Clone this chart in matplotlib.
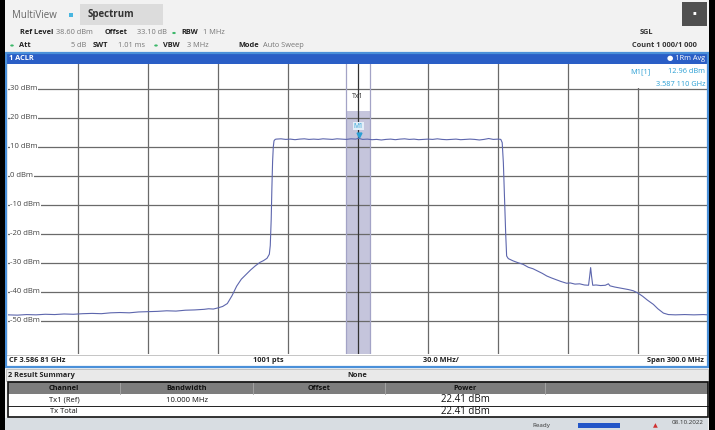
import matplotlib.pyplot as plt
from matplotlib.patches import Rectangle, Circle

plt.rcParams['font.family'] = ['Open Sans', 'DejaVu Sans']

# trace: offset from CF in MHz, level in dBm
freq_mhz = [-150, -146, -142, -138, -134, -130, -126, -122, -118, -114, -110, -106,
            -102, -98, -94, -90, -86, -82, -78, -74, -70, -66, -64, -62, -60, -58,
            -56, -54, -52, -50, -48, -46, -44, -42, -40.5, -39, -38, -37.6, -37.2,
            -36.9, -36.6, -36.3, -36, -35.5, -35, -33, -31, -29, -27, -25, -23, -21,
            -19, -17, -15, -13, -11, -9, -7, -5, -3, -1, 0.3, 2, 4, 6, 8, 10, 12, 14,
            16, 18, 20, 22, 24, 26, 28, 30, 32, 34, 36, 38, 40, 42, 44, 46, 48, 50,
            52, 54, 56, 58, 60, 61.2, 61.8, 62.3, 62.7, 63.0, 63.3, 63.7, 64.4, 65.5,
            66.5, 68.5, 70.8, 73, 75, 77, 79, 80.9, 83, 85, 87, 89.4, 91, 93, 95, 97,
            98.8, 99.3, 99.7, 100.1, 100.6, 102, 104, 106, 107.3, 108, 110, 112, 114,
            116, 118, 120, 122, 124, 126.6, 128.5, 130.9, 133, 136, 140, 144, 148, 150]
level_dbm = [-47.9, -48.0, -47.8, -47.9, -47.7, -47.8, -47.6, -47.7, -47.5, -47.4, -47.5, -47.2,
             -47.1, -47.2, -46.9, -46.8, -46.7, -46.5, -46.6, -46.3, -46.2, -46.0, -45.8, -45.9, -45.5, -45.0,
             -44.0, -41.3, -38.0, -35.6, -34.0, -32.4, -31.0, -29.8, -29.2, -28.4, -27.0, -24.0, -15.0,
             -4.0, 5.0, 10.0, 12.1, 12.6, 12.7, 12.8, 12.6, 12.7, 12.5, 12.7, 12.8, 12.6,
             12.7, 12.6, 12.8, 12.7, 12.6, 12.8, 12.7, 12.6, 12.8, 12.7, 12.96, 12.6, 12.7, 12.5, 12.6, 12.4, 12.6, 12.7,
             12.5, 12.7, 12.8, 12.6, 12.7, 12.5, 12.6, 12.7, 12.6, 12.8, 12.6, 12.5, 12.6, 12.7, 12.5, 12.6, 12.7, 12.6,
             12.4, 12.6, 12.9, 12.6, 12.7, 12.6, 11.5, 4.5, -5.0, -12.7, -20.0, -27.6, -28.5, -28.9,
             -29.3, -29.9, -30.5, -31.5, -32.0, -32.8, -33.6, -34.5, -35.2, -35.8, -36.4, -37.0, -36.9, -37.3, -37.2, -37.6,
             -37.7, -34.5, -31.6, -34.6, -37.7, -37.6, -37.8, -37.7, -37.2, -37.9, -38.3, -38.6, -38.9,
             -39.2, -39.6, -40.4, -41.5, -42.8, -44.3, -45.8, -47.3, -47.8, -47.9, -47.8, -47.9, -47.8, -47.9]

ref_level = 38.6
y_ticks = [30, 20, 10, 0, -10, -20, -30, -40, -50]
x_grid = [-120, -90, -60, -30, 0, 30, 60, 90, 120]
channel_bw = 10.0
channel_power = 22.41
marker_freq = 0.3
marker_level = 12.96

table_cols = ['Channel', 'Bandwidth', 'Offset', 'Power']
table_rows = [['Tx1 (Ref)', '10.000 MHz', '', '22.41 dBm'],
              ['Tx Total', '', '', '22.41 dBm']]

W, H = 715, 430
TRACE = '#5d66ad'
CYAN = '#2a9fd4'
GRID = '#6a6a6a'


def fx(x):
    return x / W


def fy(y):
    return 1 - y / H


def box(fig, x0, y0, x1, y1, z=1, **kw):
    fig.patches.append(Rectangle((fx(x0), fy(y1)), (x1 - x0) / W, (y1 - y0) / H,
                                 transform=fig.transFigure, zorder=z, **kw))


def txt(fig, x, y, s, **kw):
    kw.setdefault('fontsize', 5.3)
    kw.setdefault('va', 'center')
    fig.text(fx(x), fy(y), s, **kw)


def main():
    fig = plt.figure(figsize=(W / 100, H / 100), dpi=100)
    fig.patch.set_facecolor('#f2f2f2')

    # plot area
    ax = fig.add_axes([fx(8), fy(354), 700 / W, 290 / H])
    ax.set_xlim(-150, 150)
    ax.set_ylim(ref_level - 100, ref_level)
    ax.set_facecolor('white')
    for s in ax.spines.values():
        s.set_visible(False)
    ax.set_xticks([])
    ax.set_yticks([])

    for v in y_ticks:
        ax.axhline(v, color=GRID, lw=0.9, zorder=1)
        ax.text(-149, v, f'{v} dBm', fontsize=5.5, color='#444444', va='center',
                ha='left', zorder=2,
                bbox=dict(facecolor='white', edgecolor='none', pad=0.3))
    for v in x_grid:
        ax.axvline(v, color=GRID if v != 0 else '#333333', lw=0.9, zorder=1)

    # channel bar
    ax.fill_between([-channel_bw / 2, channel_bw / 2], ref_level - 100, channel_power,
                    color='#c5c5dc', zorder=0.5, lw=0)
    for v in (-channel_bw / 2, channel_bw / 2):
        ax.axvline(v, color='#a3a3c6', lw=0.9, zorder=1.2)
    ax.text(0, 27.3, 'Tx1', fontsize=5, ha='center', va='center', color='#333333', zorder=2)

    ax.plot(freq_mhz, level_dbm, color=TRACE, lw=0.8, zorder=3)

    # marker M1
    ax.plot(marker_freq, marker_level + 1.3, marker='v', color=CYAN, ms=3.5, zorder=4)
    ax.text(marker_freq, marker_level + 4.2, 'M1', fontsize=4.8, color=CYAN, ha='center',
            va='center', zorder=4,
            bbox=dict(facecolor='#e4eef8', edgecolor='none', pad=0.5))

    # marker readout box
    box(fig, 600, 64, 706, 88, z=2, facecolor='white', edgecolor='none')
    txt(fig, 630, 71.5, 'M1[1]', color=CYAN, zorder=3)
    txt(fig, 705, 71.5, '12.96 dBm', color=CYAN, ha='right', zorder=3)
    txt(fig, 705, 84, '3.587 110 GHz', color=CYAN, ha='right', zorder=3)

    # header
    box(fig, 80, 4, 163, 25, facecolor='#dcdcdc', edgecolor='none')
    txt(fig, 12, 15, 'MultiView', fontsize=7, color='#666666')
    box(fig, 69, 13, 73, 17, facecolor='#49b6e0', edgecolor='none')
    txt(fig, 88, 14, 'Spectrum', fontsize=7, color='#333333', weight='bold')
    box(fig, 682, 2, 707, 26, facecolor='#505050', edgecolor='none')
    txt(fig, 694.5, 13, '\u25aa', fontsize=4, color='white', ha='center')

    def dot(x, y):
        fig.patches.append(Circle((fx(x), fy(y)), 1.8 / W, transform=fig.transFigure,
                                  facecolor='#3cb86a', edgecolor='none', zorder=2))

    row1 = 33
    row2 = 45.5
    txt(fig, 20, row1, 'Ref Level', color='#222222', weight='bold')
    txt(fig, 56, row1, '38.60 dBm', color='#777777')
    txt(fig, 105, row1, 'Offset', color='#222222', weight='bold')
    txt(fig, 137, row1, '33.10 dB', color='#777777')
    dot(174, row1)
    txt(fig, 181, row1, 'RBW', color='#222222', weight='bold')
    txt(fig, 203, row1, '1 MHz', color='#777777')
    dot(12, row2)
    txt(fig, 19, row2, 'Att', color='#222222', weight='bold')
    txt(fig, 71, row2, '5 dB', color='#777777')
    txt(fig, 93, row2, 'SWT', color='#222222', weight='bold')
    txt(fig, 118, row2, '1.01 ms', color='#777777')
    dot(156, row2)
    txt(fig, 163, row2, 'VBW', color='#222222', weight='bold')
    txt(fig, 187, row2, '3 MHz', color='#777777')
    txt(fig, 238, row2, 'Mode', color='#222222', weight='bold')
    txt(fig, 263, row2, 'Auto Sweep', color='#777777')
    txt(fig, 640, row1, 'SGL', color='#333333', weight='bold')
    txt(fig, 632, row2, 'Count 1 000/1 000', color='#333333', weight='bold')

    # diagram title bar and frame
    box(fig, 6, 53, 708, 63.5, facecolor='#2a5ec6', edgecolor='none')
    txt(fig, 9, 58.5, '1 ACLR', color='white', weight='bold')
    txt(fig, 705, 58.5, '\u25cf 1Rm Avg', color='white', ha='right')
    box(fig, 6, 53, 708, 367, z=2, facecolor='none', edgecolor='#4a90d9', lw=1.6)

    # footer of diagram
    box(fig, 7, 354, 707, 367, facecolor='white', edgecolor='none')
    fig.lines.append(plt.Line2D([fx(7), fx(707)], [fy(354.5), fy(354.5)],
                                transform=fig.transFigure, color='#bbbbbb', lw=0.6))
    txt(fig, 9, 361, 'CF 3.586 81 GHz', color='#222222', weight='bold')
    txt(fig, 253, 361, '1001 pts', color='#222222', weight='bold')
    txt(fig, 423, 361, '30.0 MHz/', color='#222222', weight='bold')
    txt(fig, 704, 361, 'Span 300.0 MHz', color='#222222', weight='bold', ha='right')

    # result summary
    box(fig, 6, 369, 708, 381, facecolor='#e9e9e9', edgecolor='#bbbbbb', lw=0.6)
    txt(fig, 8, 375.5, '2 Result Summary', color='#222222', weight='bold')
    txt(fig, 357, 375.5, 'None', color='#222222', weight='bold', ha='center')

    col_x = [8, 120, 253, 385, 545, 708]
    box(fig, 8, 382, 708, 394, facecolor='#7d7d7d', edgecolor='none')
    box(fig, 8, 394, 708, 417, facecolor='white', edgecolor='none')
    for i, name in enumerate(table_cols):
        cx = (col_x[i] + col_x[i + 1]) / 2
        txt(fig, cx, 388.5, name, color='#111111', weight='bold', ha='center')
    for xs in col_x[1:-1]:
        fig.lines.append(plt.Line2D([fx(xs), fx(xs)], [fy(382), fy(394)],
                                    transform=fig.transFigure, color='#a8a8a8', lw=0.6))
    row_y = [400, 411.5]
    for r, vals in enumerate(table_rows):
        for i, v in enumerate(vals):
            cx = (col_x[i] + col_x[i + 1]) / 2
            big = i == 3
            txt(fig, cx, row_y[r], v, color='#111111', ha='center',
                fontsize=7 if big else 5.5)
    fig.lines.append(plt.Line2D([fx(8), fx(708)], [fy(405.8), fy(405.8)],
                                transform=fig.transFigure, color='#222222', lw=0.7))
    box(fig, 8, 382, 708, 417, z=2, facecolor='none', edgecolor='#111111', lw=1.2)

    # status bar
    box(fig, 5, 418, 708, 430, facecolor='#d8dde2', edgecolor='none')
    txt(fig, 532, 425.5, 'Ready', fontsize=4.5, color='#333333')
    box(fig, 578, 422.5, 620, 428, facecolor='#2456c8', edgecolor='none')
    txt(fig, 655, 426, '\u25b2', fontsize=4.5, color='#d03030', ha='center')
    txt(fig, 672, 423, '08.10.2022', fontsize=4.5, color='#333333')

    # screenshot black edges
    box(fig, 0, 0, 5, 430, z=3, facecolor='black', edgecolor='none')
    box(fig, 708.5, 0, 715, 430, z=3, facecolor='black', edgecolor='none')

    fig.savefig('out.png', dpi=100)


if __name__ == '__main__':
    main()
